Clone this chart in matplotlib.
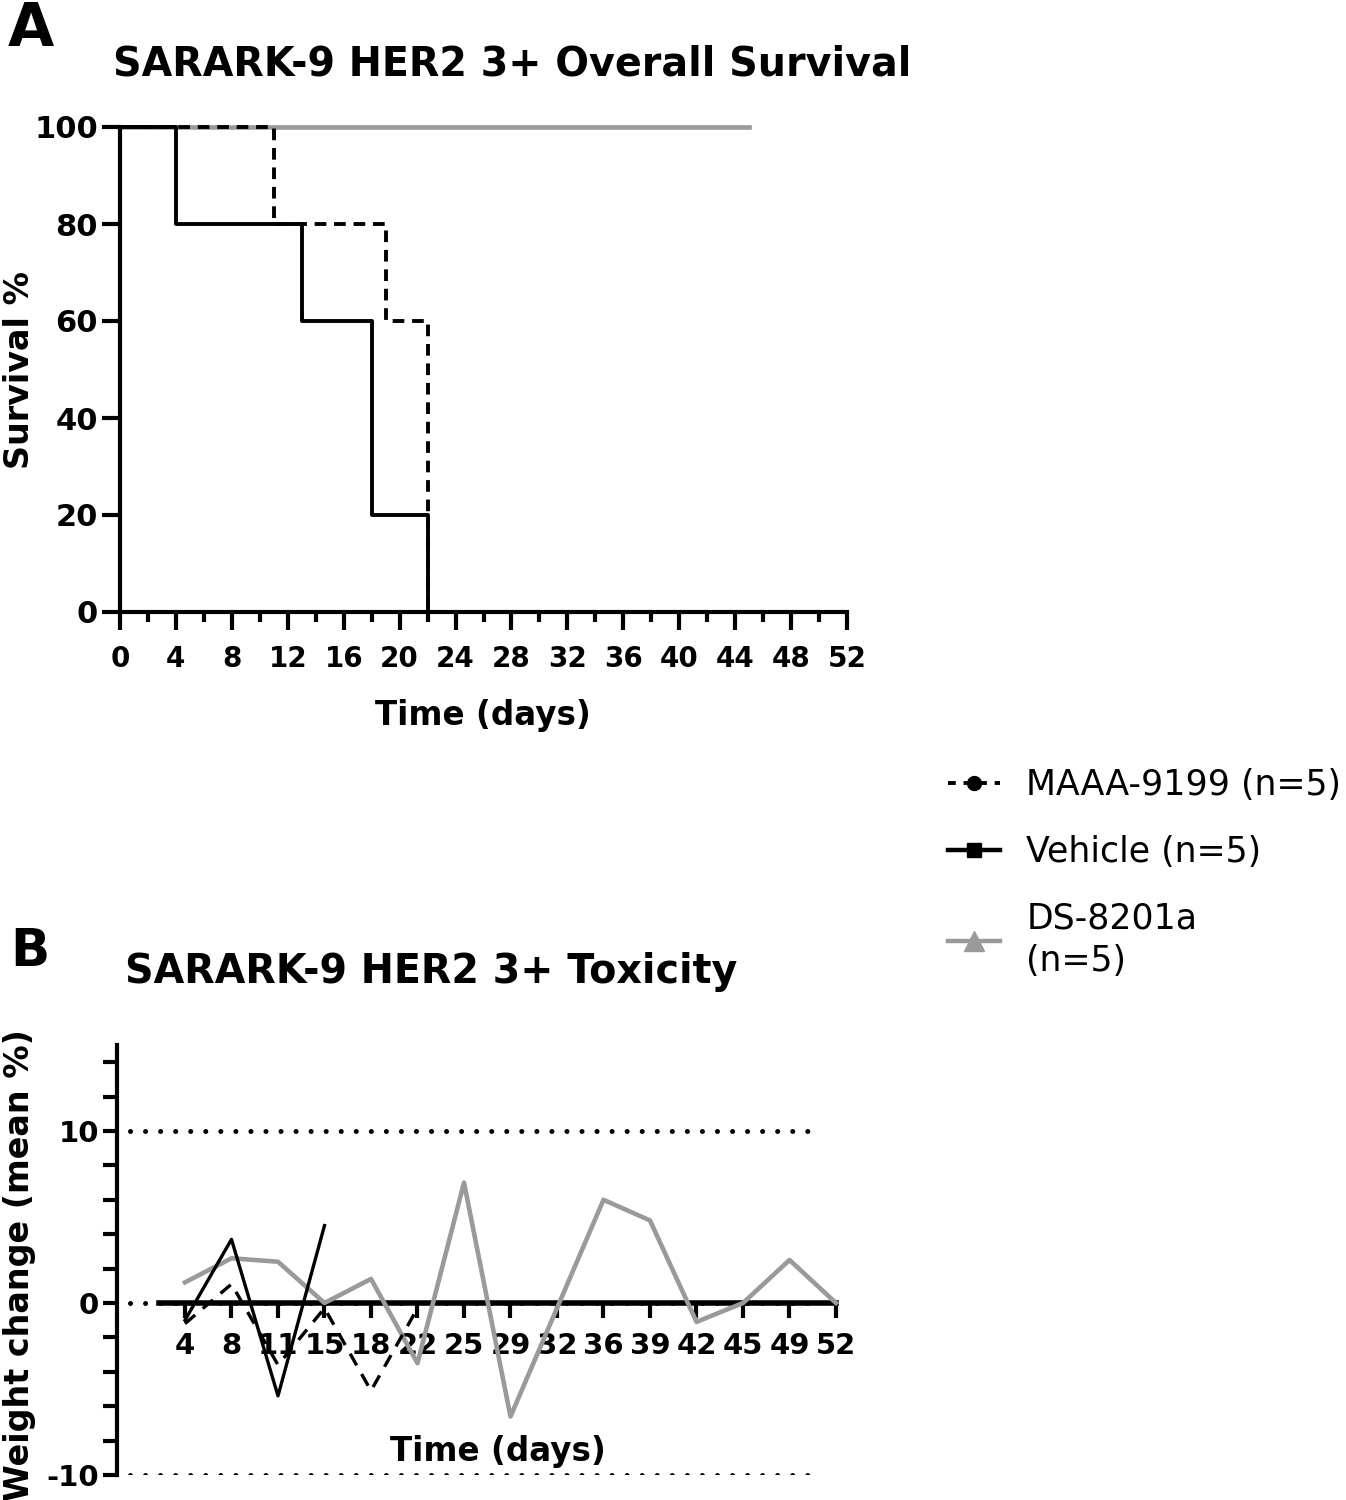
import matplotlib
matplotlib.use('Agg')
import matplotlib.pyplot as plt
from matplotlib.lines import Line2D
import numpy as np

plt.rcParams['axes.unicode_minus'] = False

# survival (Kaplan-Meier steps)
surv_vehicle_t = [0, 4, 13, 18, 22]
surv_vehicle = [100, 80, 60, 20, 0]
surv_maaa_t = [0, 11, 19, 22]
surv_maaa = [100, 80, 60, 0]
surv_ds_t = [0, 45]
surv_ds = [100, 100]

# toxicity (mean weight change %)
days = ['4', '8', '11', '15', '18', '22', '25', '29', '32', '36', '39', '42', '45', '49', '52']
weight_maaa = [-1.2, 1.1, -3.6, -0.3, -5.1, -0.3]
weight_vehicle = [-1.0, 3.7, -5.4, 4.5]
weight_ds = [1.2, 2.6, 2.4, 0.0, 1.4, -3.5, 7.0, -6.6, -0.3, 6.0, 4.8, -1.1, 0.0, 2.5, 0.0]

labels = ['MAAA-9199 (n=5)', 'Vehicle (n=5)', 'DS-8201a\n(n=5)']

GRAY = '#9a9a9a'
DASH = (0, (3, 2))
W, H = 1346, 1500

fig = plt.figure(figsize=(W / 100, H / 100), dpi=100)


def px(x0, y0, x1, y1):
    return [x0 / W, 1 - y1 / H, (x1 - x0) / W, (y1 - y0) / H]


# ---- panel A ----
ax1 = fig.add_axes(px(120, 127, 847, 612))
ax1.step(surv_ds_t, surv_ds, where='post', color=GRAY, lw=3.3, clip_on=False, zorder=2)
ax1.step(surv_maaa_t, surv_maaa, where='post', color='black', lw=2.8, ls=DASH, clip_on=False, zorder=3)
ax1.step(surv_vehicle_t, surv_vehicle, where='post', color='black', lw=2.8, clip_on=False, zorder=4)
ax1.set_xlim(0, 52)
ax1.set_ylim(0, 100)
ax1.set_xticks(np.arange(0, 53, 4))
ax1.set_xticks(np.arange(2, 53, 4), minor=True)
ax1.set_yticks(np.arange(0, 101, 20))
for s in ['top', 'right']:
    ax1.spines[s].set_visible(False)
for s in ['left', 'bottom']:
    ax1.spines[s].set_linewidth(3)
ax1.tick_params(axis='both', which='major', width=3, length=13, direction='out')
ax1.tick_params(axis='x', which='minor', width=3, length=7)
ax1.tick_params(axis='x', labelsize=20, pad=11)
ax1.tick_params(axis='y', labelsize=22, pad=3)
for t in ax1.get_xticklabels() + ax1.get_yticklabels():
    t.set_fontweight('bold')

fig.text(8 / W, 1 - 46 / H, 'A', fontsize=43, fontweight='bold', va='baseline', ha='left')
fig.text(113 / W, 1 - 76 / H, 'SARARK-9 HER2 3+ Overall Survival', fontsize=28.5,
         fontweight='bold', va='baseline', ha='left')
fig.text(20 / W, 1 - 370 / H, 'Survival %', fontsize=24, fontweight='bold',
         rotation=90, va='center', ha='center')
fig.text(483 / W, 1 - 715 / H, 'Time (days)', fontsize=23.5, fontweight='bold',
         va='center', ha='center')

# ---- panel B ----
ax2 = fig.add_axes(px(117, 1045, 840, 1475))
idx = np.arange(len(days))
ax2.hlines([10, 0, -10], -1.18, 13.7, colors='black', lw=3.6,
           linestyles=[(0, (0.01, 3.0))], capstyle='round', zorder=1)
ax2.plot(idx, weight_ds, color=GRAY, lw=3.3, zorder=3)
ax2.plot(idx[:len(weight_maaa)], weight_maaa, color='black', lw=2.4, ls=(0, (4, 3)), zorder=4)
ax2.plot(idx[:len(weight_vehicle)], weight_vehicle, color='black', lw=2.4, zorder=5)
ax2.set_xlim(-1.462, 14.086)
ax2.set_ylim(-10, 15)
ax2.spines['top'].set_visible(False)
ax2.spines['right'].set_visible(False)
ax2.spines['bottom'].set_position(('data', 0))
ax2.spines['bottom'].set_bounds(-0.55, 14)
ax2.spines['bottom'].set_linewidth(4)
ax2.spines['bottom'].set_zorder(2)
ax2.spines['left'].set_linewidth(3)
ax2.set_xticks(idx)
ax2.set_xticklabels(days)
ax2.set_yticks([-10, 0, 10])
ax2.set_yticks([v for v in range(-8, 15, 2) if v not in (0, 10)], minor=True)
ax2.tick_params(axis='x', width=3, length=11, labelsize=21, pad=10)
ax2.tick_params(axis='y', which='both', width=3, length=10, labelsize=21, pad=3)
for t in ax2.get_xticklabels() + ax2.get_yticklabels():
    t.set_fontweight('bold')

fig.text(10 / W, 1 - 966 / H, 'B', fontsize=37, fontweight='bold', va='baseline', ha='left')
fig.text(125 / W, 1 - 983 / H, 'SARARK-9 HER2 3+ Toxicity', fontsize=28.5,
         fontweight='bold', va='baseline', ha='left')
fig.text(20 / W, 1 - 1265 / H, 'Weight change (mean %)', fontsize=24, fontweight='bold',
         rotation=90, va='center', ha='center')
fig.text(498 / W, 1 - 1452 / H, 'Time (days)', fontsize=23.5, fontweight='bold',
         va='center', ha='center')

# ---- legend ----
handles = [
    Line2D([], [], color='black', lw=2.8, ls=(0, (2, 2)), marker='o', ms=10),
    Line2D([], [], color='black', lw=3.2, marker='s', ms=10),
    Line2D([], [], color=GRAY, lw=3.2, marker='^', ms=14),
]
leg = fig.legend(handles, labels, loc='upper left', bbox_to_anchor=(948 / W, 1 - 768 / H),
                 frameon=False, fontsize=25, handlelength=1.5, handletextpad=0.75,
                 labelspacing=0.95, borderpad=0, borderaxespad=0)
for t in leg.get_texts():
    t.set_linespacing(1.3)

fig.savefig('out.png', dpi=100)
